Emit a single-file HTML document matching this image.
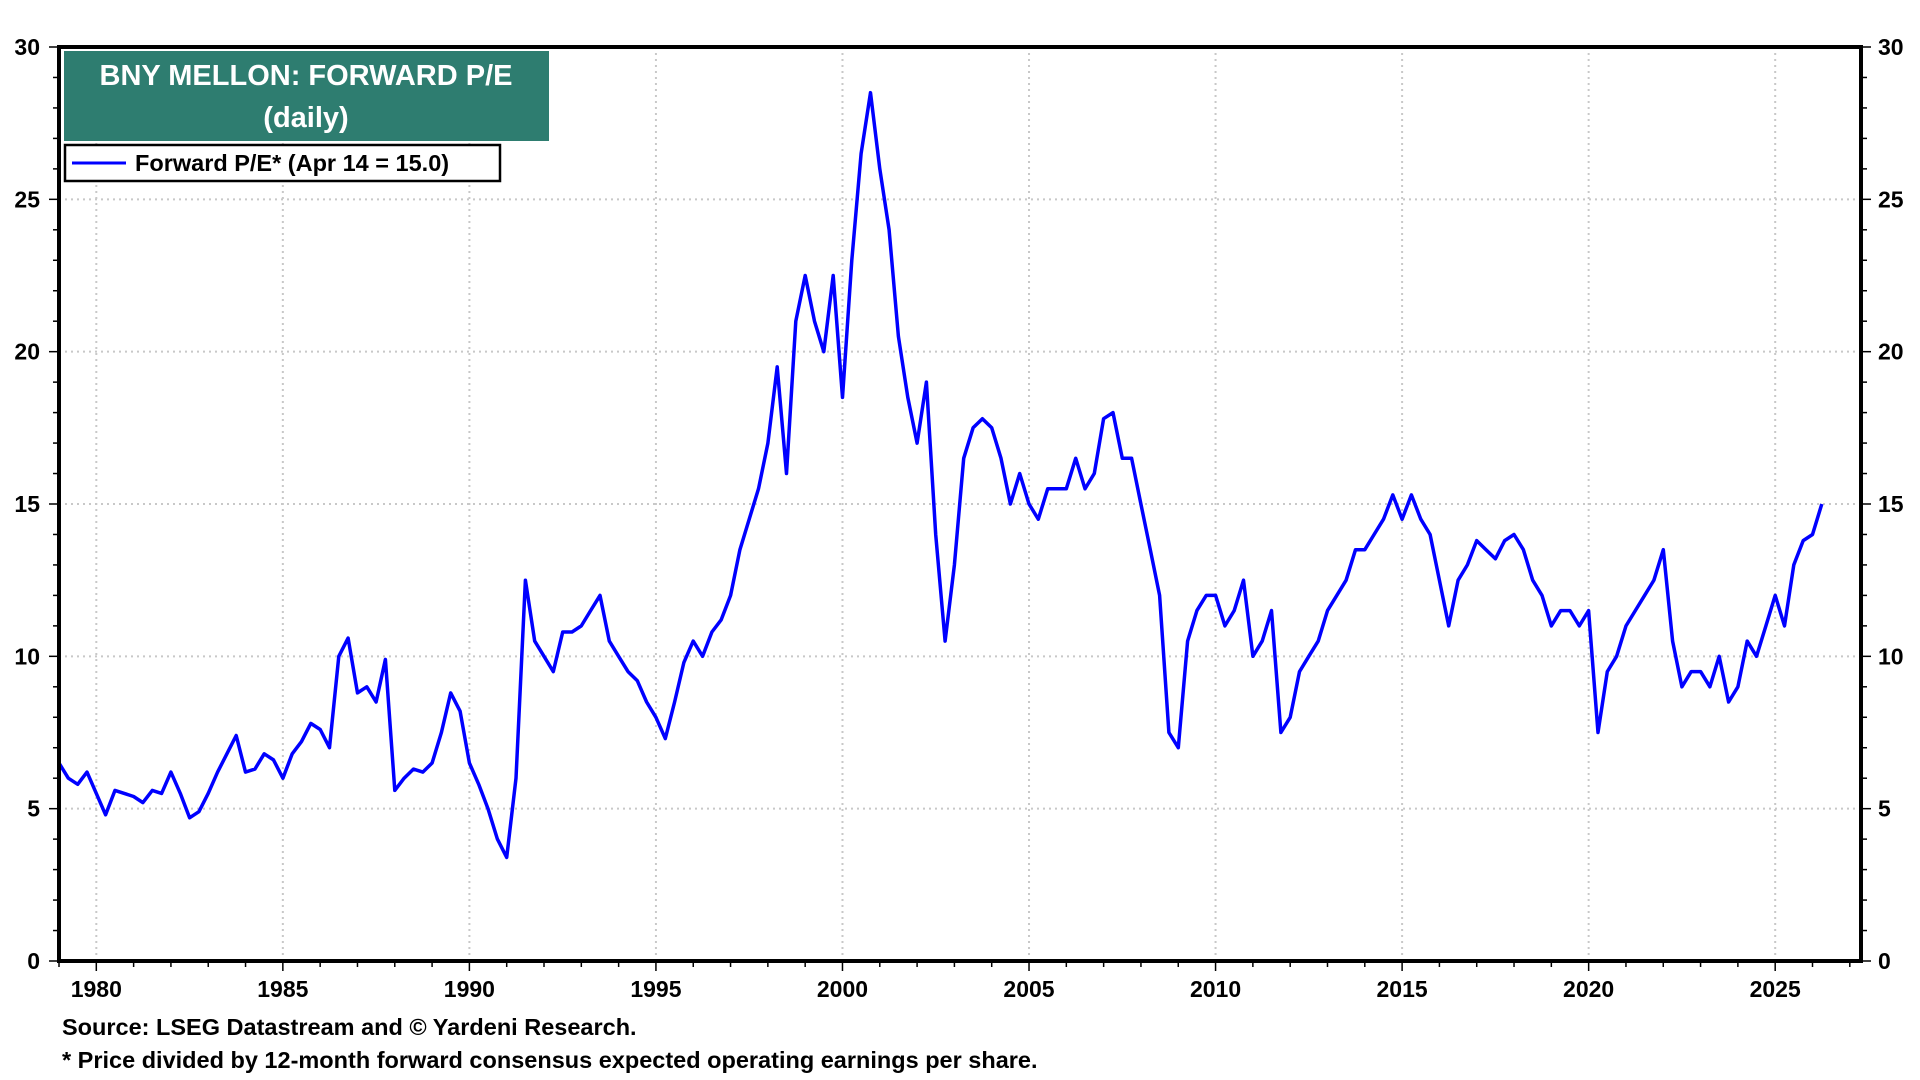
<!DOCTYPE html>
<html><head><meta charset="utf-8"><style>
html,body{margin:0;padding:0;background:#fff;width:1920px;height:1080px;overflow:hidden;font-family:"Liberation Sans",Arial,sans-serif}
svg text{font-family:"Liberation Sans",Arial,sans-serif;font-weight:bold}
</style></head><body>
<svg id="chart" width="1920" height="1080" viewBox="0 0 1920 1080" xmlns="http://www.w3.org/2000/svg">
<g id="grid"></g>
<g id="axes"></g>
<path id="line" fill="none" stroke="#0000ff" stroke-width="3.5" stroke-linejoin="round"></path>
<rect x="59" y="47" width="1802" height="914" fill="none" stroke="#000" stroke-width="4"/>
<g>
<rect x="64" y="51" width="485" height="90" fill="#2e7d70"/>
<text x="306" y="85" fill="#fff" font-size="29" text-anchor="middle">BNY MELLON: FORWARD P/E</text>
<text x="306" y="127" fill="#fff" font-size="29" text-anchor="middle">(daily)</text>
</g>
<g>
<rect x="65" y="145" width="435" height="36" fill="#fff" stroke="#000" stroke-width="2.5"/>
<line x1="72" y1="163" x2="126" y2="163" stroke="#0000ff" stroke-width="3"/>
<text x="135" y="171" font-size="23.5">Forward P/E* (Apr 14 = 15.0)</text>
</g>
<text x="62" y="1035" font-size="23.5">Source: LSEG Datastream and © Yardeni Research.</text>
<text x="62" y="1068" font-size="23.5">* Price divided by 12-month forward consensus expected operating earnings per share.</text>
</svg>
<script>
const startYear = 1979.0;
const pointsPerYear = 4;
const peValues = [
6.5,6.0,5.8,6.2, 5.5,4.8,5.6,5.5, 5.4,5.2,5.6,5.5, 6.2,5.5,4.7,4.9,
5.5,6.2,6.8,7.4, 6.2,6.3,6.8,6.6, 6.0,6.8,7.2,7.8, 7.6,7.0,10.0,10.6,
8.8,9.0,8.5,9.9, 5.6,6.0,6.3,6.2, 6.5,7.5,8.8,8.2, 6.5,5.8,5.0,4.0,
3.4,6.0,12.5,10.5, 10.0,9.5,10.8,10.8, 11.0,11.5,12.0,10.5, 10.0,9.5,9.2,8.5,
8.0,7.3,8.5,9.8, 10.5,10.0,10.8,11.2, 12.0,13.5,14.5,15.5, 17.0,19.5,16.0,21.0,
22.5,21.0,20.0,22.5, 18.5,23.0,26.5,28.5, 26.0,24.0,20.5,18.5, 17.0,19.0,14.0,10.5,
13.0,16.5,17.5,17.8, 17.5,16.5,15.0,16.0, 15.0,14.5,15.5,15.5, 15.5,16.5,15.5,16.0,
17.8,18.0,16.5,16.5, 15.0,13.5,12.0,7.5, 7.0,10.5,11.5,12.0, 12.0,11.0,11.5,12.5,
10.0,10.5,11.5,7.5, 8.0,9.5,10.0,10.5, 11.5,12.0,12.5,13.5, 13.5,14.0,14.5,15.3,
14.5,15.3,14.5,14.0, 12.5,11.0,12.5,13.0, 13.8,13.5,13.2,13.8, 14.0,13.5,12.5,12.0,
11.0,11.5,11.5,11.0, 11.5,7.5,9.5,10.0, 11.0,11.5,12.0,12.5, 13.5,10.5,9.0,9.5,
9.5,9.0,10.0,8.5, 9.0,10.5,10.0,11.0, 12.0,11.0,13.0,13.8, 14.0,15.0
];
const yTicks = [0,5,10,15,20,25,30];
const xTickYears = [1980,1985,1990,1995,2000,2005,2010,2015,2020,2025];

const L=59,R=1861,T=47,B=961,xMin=1979.0,xMax=2027.3,yMin=0,yMax=30;
const xs=v=>L+(v-xMin)/(xMax-xMin)*(R-L);
const ys=v=>B-(v-yMin)/(yMax-yMin)*(B-T);
const NS='http://www.w3.org/2000/svg';
function mk(tag,attrs,parent,txt){const e=document.createElementNS(NS,tag);for(const k in attrs)e.setAttribute(k,attrs[k]);if(txt!==undefined)e.textContent=txt;parent.appendChild(e);return e;}
const grid=document.getElementById('grid'),axes=document.getElementById('axes');
yTicks.forEach(t=>{
  if(t>0&&t<30){const g=mk('line',{x1:L,x2:R,y1:ys(t),y2:ys(t),stroke:'#c8c8c8','stroke-width':2,'stroke-dasharray':'2,4'},grid);
  
  }
  const a=mk('text',{x:40,y:ys(t)+8,'font-size':23,'text-anchor':'end'},axes,t);
  
  
  const b=mk('text',{x:1878,y:ys(t)+8,'font-size':23,'text-anchor':'start'},axes,t);
  
  
});
for(let v=0;v<=30;v++){
  const len=v%5===0?10:6;
  mk('line',{x1:L-len,x2:L,y1:ys(v),y2:ys(v),stroke:'#000','stroke-width':1.5},axes);
  mk('line',{x1:R,x2:R+len,y1:ys(v),y2:ys(v),stroke:'#000','stroke-width':1.5},axes);
}
for(let y=1979;y<=2027;y++){
  const len=y%5===0?10:6;
  mk('line',{x1:xs(y),x2:xs(y),y1:B,y2:B+len,stroke:'#000','stroke-width':1.5},axes);
}
xTickYears.forEach(yr=>{
  const g=mk('line',{x1:xs(yr),x2:xs(yr),y1:T,y2:B,stroke:'#c8c8c8','stroke-width':2,'stroke-dasharray':'2,4'},grid);
  
  
  const t=mk('text',{x:xs(yr),y:997,'font-size':23,'text-anchor':'middle'},axes,yr);
  
  
});
let d='';
peValues.forEach((v,i)=>{const x=xs(startYear+i/pointsPerYear);d+=(i?'L':'M')+x.toFixed(1)+','+ys(v).toFixed(1);});
document.getElementById('line').setAttribute('d',d);
</script>
</body></html>
